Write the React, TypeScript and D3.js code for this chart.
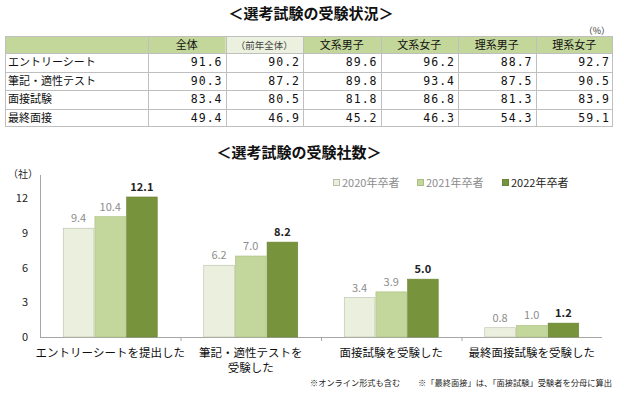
import React from "react";
import * as d3 from "d3";

// table data (%)
const tableColumns = ["全体", "（前年全体）", "文系男子", "文系女子", "理系男子", "理系女子"];
const tableRows = ["エントリーシート", "筆記・適性テスト", "面接試験", "最終面接"];
const entryRow = [91.6, 90.2, 89.6, 96.2, 88.7, 92.7];
const writtenRow = [90.3, 87.2, 89.8, 93.4, 87.5, 90.5];
const interviewRow = [83.4, 80.5, 81.8, 86.8, 81.3, 83.9];
const finalRow = [49.4, 46.9, 45.2, 46.3, 54.3, 59.1];
const tableValues = [entryRow, writtenRow, interviewRow, finalRow];

// bar chart data (社)
const categories = ["エントリーシートを提出した", "筆記・適性テストを\n受験した", "面接試験を受験した", "最終面接試験を受験した"];
const seriesNames = ["2020年卒者", "2021年卒者", "2022年卒者"];
const values2020 = [9.4, 6.2, 3.4, 0.8];
const values2021 = [10.4, 7.0, 3.9, 1.0];
const values2022 = [12.1, 8.2, 5.0, 1.2];
const yTicks = [0, 3, 6, 9, 12];

const seriesValues = [values2020, values2021, values2022];
const colors = ["#ebf0de", "#c3d69b", "#77933c"];
const strokes = ["#b8bfa8", "#a9bf80", "#6a8534"];
const labelColors = ["#8c8c8c", "#8c8c8c", "#222"];

const font = "'Noto Sans CJK JP', 'Noto Sans', sans-serif";

export default function App() {
  const W = 624, H = 395;

  // table geometry
  const tLeft = 5, tFirst = 148, tRight = 613;
  const headerTop = 36, headerBottom = 53;
  const colX = d3.scaleBand().domain(tableColumns).range([tFirst, tRight]);
  const rowY = d3.scaleBand().domain(tableRows).range([headerBottom, 127]);

  // chart geometry
  const left = 40, right = 602;
  const y = d3.scaleLinear().domain([0, 14]).range([337, 175]);
  const x0 = d3.scaleBand().domain(categories).range([left, right]).paddingInner(0.324).paddingOuter(0.162);
  const x1 = d3.scaleBand().domain(seriesNames).range([0, x0.bandwidth()]);
  const step = x0.step();

  const legendX = [333, 417, 502];

  return (
    <svg width={W} height={H} style={{ position: "absolute", left: 0, top: 0, fontFamily: font }}>
      <rect width={W} height={H} fill="#fff" />
      <text x={311} y={19} textAnchor="middle" fontSize={15} fontWeight="bold" fill="#111">＜選考試験の受験状況＞</text>
      <text x={610} y={34} textAnchor="end" fontSize={9} fill="#333">（%）</text>

      {/* header */}
      <rect x={tLeft} y={headerTop} width={tRight - tLeft} height={headerBottom - headerTop} fill="#c4d79b" />
      <rect x={colX(tableColumns[1])} y={headerTop} width={colX.bandwidth()} height={headerBottom - headerTop} fill="#ebf1de" />
      {tableColumns.map((c, i) => (
        <text key={c} x={colX(c)! + colX.bandwidth() / 2} y={49} textAnchor="middle"
          fontSize={i === 1 ? 9.5 : 11} fill={i === 1 ? "#444" : "#111"}>{c}</text>
      ))}
      {tableRows.map((r, ri) => (
        <g key={r}>
          <text x={tLeft + 3} y={rowY(r)! + rowY.bandwidth() / 2 + 4} fontSize={11} fill="#111">{r}</text>
          {tableValues[ri].map((v, ci) => (
            <text key={ci} x={colX(tableColumns[ci])! + colX.bandwidth() - 3} y={rowY(r)! + rowY.bandwidth() / 2 + 4}
              textAnchor="end" fontSize={11.5} fill="#111" letterSpacing={1}
              style={{ fontFamily: "'DejaVu Sans Mono', monospace" }}>{v.toFixed(1)}</text>
          ))}
        </g>
      ))}
      {/* grid lines */}
      <g stroke="#bfbfbf" strokeWidth={1} fill="none">
        <rect x={tLeft + 0.5} y={headerTop + 0.5} width={tRight - tLeft - 1} height={127 - headerTop - 1} />
        {[headerBottom, ...tableRows.slice(1).map((r) => rowY(r)!)].map((yy, i) => (
          <line key={i} x1={tLeft} x2={tRight} y1={Math.round(yy) + 0.5} y2={Math.round(yy) + 0.5} />
        ))}
        {tableColumns.map((c) => (
          <line key={c} x1={Math.round(colX(c)!) + 0.5} x2={Math.round(colX(c)!) + 0.5} y1={headerTop} y2={127} />
        ))}
      </g>

      {/* chart title */}
      <text x={299} y={158} textAnchor="middle" fontSize={15} fontWeight="bold" fill="#111">＜選考試験の受験社数＞</text>

      {/* legend */}
      {seriesNames.map((s, i) => (
        <g key={s}>
          <rect x={legendX[i] + 0.5} y={179.5} width={6} height={6} fill={colors[i]} stroke={strokes[i]} />
          <text x={legendX[i] + 9} y={186.5} fontSize={11} fill={labelColors[i]}>{s}</text>
        </g>
      ))}

      {/* y axis */}
      <text x={8} y={178} fontSize={10} fill="#222">（社）</text>
      <line x1={left + 0.5} x2={left + 0.5} y1={y(14)} y2={y(0)} stroke="#a6a6a6" />
      {yTicks.map((t) => (
        <text key={t} x={28} y={y(t) + 4} textAnchor="end" fontSize={11} fill="#222">{t}</text>
      ))}
      <line x1={left} x2={right} y1={y(0) + 0.5} y2={y(0) + 0.5} stroke="#a6a6a6" />
      {categories.slice(1).map((c, i) => (
        <line key={c} x1={left + step * (i + 1) + 0.5} x2={left + step * (i + 1) + 0.5} y1={y(0)} y2={y(0) + 4} stroke="#a6a6a6" />
      ))}

      {/* bars */}
      {categories.map((c, ci) => (
        <g key={c} transform={`translate(${x0(c)},0)`}>
          {seriesNames.map((s, si) => {
            const v = seriesValues[si][ci];
            return (
              <g key={s}>
                <rect x={x1(s)! + 0.5} y={y(v)} width={x1.bandwidth() - 1} height={y(0) - y(v)}
                  fill={colors[si]} stroke={strokes[si]} strokeWidth={0.6} />
                <text x={x1(s)! + x1.bandwidth() / 2} y={y(v) - 6} textAnchor="middle" fontSize={11}
                  fill={labelColors[si]} fontWeight={si === 2 ? "bold" : "normal"}>{v.toFixed(1)}</text>
              </g>
            );
          })}
          {c.split("\n").map((line, li) => (
            <text key={li} x={x0.bandwidth() / 2} y={357 + li * 15} textAnchor="middle" fontSize={11.5} fill="#111">{line}</text>
          ))}
        </g>
      ))}

      {/* footnotes */}
      <text x={310} y={386} fontSize={8.2} fill="#222">※オンライン形式も含む</text>
      <text x={418} y={386} fontSize={8} fill="#222" textLength={194} lengthAdjust="spacingAndGlyphs">※「最終面接」は、「面接試験」受験者を分母に算出</text>
    </svg>
  );
}
